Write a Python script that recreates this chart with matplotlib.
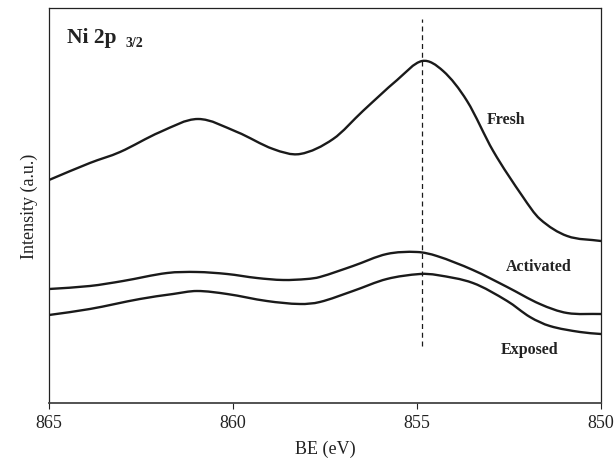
import numpy as np
import matplotlib
matplotlib.use("Agg")
import matplotlib.pyplot as plt
from matplotlib.path import Path
from matplotlib.patches import PathPatch

plt.rcParams["font.family"] = ["Liberation Serif", "DejaVu Serif"]

# binding energies (eV) and intensities (a.u.)
be_fresh = [865.0, 863.89, 863.07, 861.98, 860.95, 859.89, 858.91, 858.18,
            857.28, 856.47, 855.54, 854.86, 854.29, 853.64, 852.93, 852.12,
            851.66, 850.92, 850.0]
int_fresh = [2.23, 2.40, 2.51, 2.71, 2.84, 2.71, 2.54, 2.49,
             2.64, 2.92, 3.23, 3.42, 3.32, 3.02, 2.52, 2.06,
             1.84, 1.67, 1.62]

be_act = [865.0, 863.89, 862.99, 861.79, 860.98, 860.16, 859.35, 858.64,
          857.99, 857.64, 856.74, 855.82, 855.0, 854.46, 853.48, 852.55,
          851.66, 850.92, 850.0]
int_act = [1.14, 1.17, 1.22, 1.30, 1.31, 1.29, 1.25, 1.23,
           1.24, 1.26, 1.37, 1.49, 1.51, 1.47, 1.33, 1.16,
           0.99, 0.90, 0.89]

be_exp = [865.0, 863.89, 862.53, 861.63, 860.98, 860.16, 859.08, 858.18,
          857.64, 856.74, 855.82, 854.92, 854.46, 853.48, 852.55, 851.93,
          851.39, 850.57, 850.0]
int_exp = [0.88, 0.94, 1.04, 1.09, 1.12, 1.09, 1.02, 0.99,
           1.01, 1.12, 1.24, 1.29, 1.28, 1.20, 1.02, 0.86,
           0.77, 0.71, 0.69]

peak_be = 854.86
x_ticks = [865, 860, 855, 850]


def smooth_path(xs, ys):
    # smoothed line: cubic hermite segments through the read points
    x = np.asarray(xs, float)
    y = np.asarray(ys, float)
    n = len(x)
    m = np.empty(n)
    m[1:-1] = (y[2:] - y[:-2]) / (x[2:] - x[:-2])
    m[0] = (y[1] - y[0]) / (x[1] - x[0])
    m[-1] = (y[-1] - y[-2]) / (x[-1] - x[-2])
    verts = [(x[0], y[0])]
    codes = [Path.MOVETO]
    for i in range(n - 1):
        h = (x[i + 1] - x[i]) / 3.0
        verts += [(x[i] + h, y[i] + m[i] * h),
                  (x[i + 1] - h, y[i + 1] - m[i + 1] * h),
                  (x[i + 1], y[i + 1])]
        codes += [Path.CURVE4] * 3
    return Path(verts, codes)


fig = plt.figure(figsize=(6.16, 4.6), dpi=100)
ax = fig.add_axes([49 / 616, 56 / 460, 552 / 616, 395 / 460])

for be, inten in [(be_fresh, int_fresh), (be_act, int_act), (be_exp, int_exp)]:
    ax.add_patch(PathPatch(smooth_path(be, inten), fill=False,
                           edgecolor="#1a1a1a", lw=1.7, capstyle="round"))

ax.plot([peak_be, peak_be], [0.57, 3.84], color="#1a1a1a", lw=0.9,
        linestyle=(0, (4, 3)))

ax.set_xlim(865, 850)
ax.set_ylim(0, 3.95)
ax.set_xticks(x_ticks)
ax.set_xticklabels([str(t) for t in x_ticks])
ax.set_yticks([])
ax.tick_params(axis="x", direction="out", length=4, width=0.8,
               labelsize=13, pad=4, colors="#222222")
for sp in ax.spines.values():
    sp.set_color("#222222")
    sp.set_linewidth(0.9)
ax.spines["bottom"].set_linewidth(1.3)
ax.spines["bottom"].set_color("#444444")

ax.set_xlabel("BE (eV)", fontsize=13, labelpad=6, color="#222222")
ax.set_ylabel("Intensity (a.u.)", fontsize=13, labelpad=8, color="#222222")

ax.text(0.033, 0.914, "Ni 2p", transform=ax.transAxes, fontsize=15.5,
        fontweight="bold", ha="left", va="baseline", color="#222222")
ax.text(0.139, 0.903, "3/2", transform=ax.transAxes, fontsize=10,
        fontweight="bold", ha="left", va="baseline", color="#222222")

ax.text(852.58, 2.84, "Fresh", fontsize=11.5, fontweight="bold",
        ha="center", va="center", color="#222222")
ax.text(851.68, 1.37, "Activated", fontsize=11.5, fontweight="bold",
        ha="center", va="center", color="#222222")
ax.text(851.93, 0.54, "Exposed", fontsize=11.5, fontweight="bold",
        ha="center", va="center", color="#222222")

plt.savefig("out.png", dpi=100)
